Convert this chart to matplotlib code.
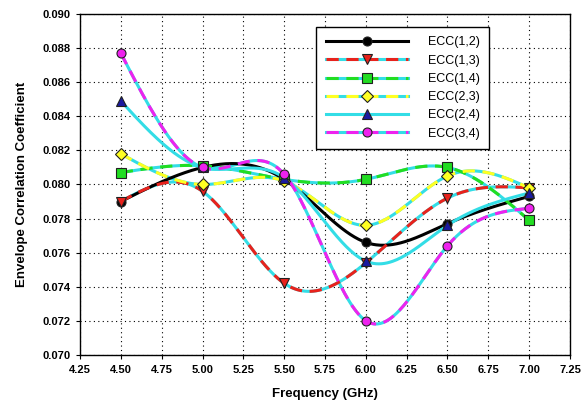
import numpy as np
import matplotlib
matplotlib.use('Agg')
import matplotlib.pyplot as plt
from matplotlib.lines import Line2D
from matplotlib.legend_handler import HandlerTuple

plt.rcParams['font.family'] = ['Liberation Sans', 'DejaVu Sans']

# data
freq = [4.5, 5.0, 5.5, 6.0, 6.5, 7.0]
ecc12 = [0.0790, 0.0810, 0.0803, 0.0766, 0.0777, 0.0793]
ecc13 = [0.0790, 0.0796, 0.0742, 0.0754, 0.0792, 0.0798]
ecc14 = [0.0807, 0.0811, 0.0803, 0.0803, 0.0810, 0.0779]
ecc23 = [0.0818, 0.0800, 0.0802, 0.0776, 0.0805, 0.0798]
ecc24 = [0.0849, 0.0810, 0.0804, 0.0755, 0.0776, 0.0795]
ecc34 = [0.0877, 0.0810, 0.0806, 0.0720, 0.0764, 0.0786]
labels = ['ECC(1,2)', 'ECC(1,3)', 'ECC(1,4)', 'ECC(2,3)', 'ECC(2,4)', 'ECC(3,4)']


def spline(x, y, n=300):
    # natural cubic spline, just for the smooth look of the curves
    x = np.asarray(x, float)
    y = np.asarray(y, float)
    k = len(x)
    h = np.diff(x)
    A = np.zeros((k, k))
    b = np.zeros(k)
    A[0, 0] = 1
    A[-1, -1] = 1
    for i in range(1, k - 1):
        A[i, i - 1] = h[i - 1]
        A[i, i] = 2 * (h[i - 1] + h[i])
        A[i, i + 1] = h[i]
        b[i] = 3 * ((y[i + 1] - y[i]) / h[i] - (y[i] - y[i - 1]) / h[i - 1])
    c = np.linalg.solve(A, b)
    xs = np.linspace(x[0], x[-1], n)
    ys = np.zeros(n)
    for j, xv in enumerate(xs):
        i = min(np.searchsorted(x, xv, side='right') - 1, k - 2)
        dx = xv - x[i]
        bi = (y[i + 1] - y[i]) / h[i] - h[i] * (2 * c[i] + c[i + 1]) / 3
        di = (c[i + 1] - c[i]) / (3 * h[i])
        ys[j] = y[i] + bi * dx + c[i] * dx ** 2 + di * dx ** 3
    return xs, ys


fig = plt.figure(figsize=(5.84, 4.15), dpi=100)
ax = fig.add_axes([0.137, 0.145, 0.839, 0.821])

lw = 2.2
cyan = '#33dde6'
series = [
    (ecc12, 'black', 'o', 'black', False),
    (ecc13, '#e8221c', 'v', '#e8221c', True),
    (ecc14, '#22dd22', 's', '#22dd22', True),
    (ecc23, '#ffff22', 'D', '#ffff22', True),
    (ecc24, cyan, '^', '#1a1aa0', False),
    (ecc34, '#ee22ee', 'o', '#ee22ee', True),
]

handles = []
for (vals, col, mk, mcol, dashed), lab in zip(series, labels):
    xs, ys = spline(freq, vals)
    if dashed:
        ax.plot(xs, ys, color=cyan, lw=lw, zorder=2)
        ax.plot(xs, ys, color=col, lw=lw, dashes=(4, 2.5), zorder=3)
    else:
        ax.plot(xs, ys, color=col, lw=lw, zorder=3)
    ax.plot(freq, vals, ls='none', marker=mk, ms=6.5, mfc=mcol,
            mec='#202020', mew=0.8, zorder=4)
    if dashed:
        h = (Line2D([], [], color=cyan, lw=lw),
             Line2D([], [], color=col, lw=lw, dashes=(4, 2.5), marker=mk,
                    ms=6.5, mfc=mcol, mec='#202020', mew=0.8))
    else:
        h = (Line2D([], [], color=col, lw=lw, marker=mk, ms=6.5, mfc=mcol,
                    mec='#202020', mew=0.8),)
    handles.append(h)

ax.set_xlim(4.25, 7.25)
ax.set_ylim(0.070, 0.090)
ax.set_xticks(np.arange(4.25, 7.26, 0.25))
ax.set_yticks(np.arange(0.070, 0.0901, 0.002))
ax.xaxis.set_major_formatter(matplotlib.ticker.FormatStrFormatter('%.2f'))
ax.yaxis.set_major_formatter(matplotlib.ticker.FormatStrFormatter('%.3f'))
ax.tick_params(length=3, width=0.8, labelsize=8, pad=4)
for t in ax.get_xticklabels() + ax.get_yticklabels():
    t.set_fontweight('bold')
ax.grid(True, color='black', ls=(0, (1, 3)), lw=0.8)
for s in ax.spines.values():
    s.set_linewidth(1.0)

ax.set_xlabel('Frequency (GHz)', fontsize=9.5, fontweight='bold', labelpad=10)
ax.set_ylabel('Envelope Correlation Coefficient', fontsize=9.5, fontweight='bold', labelpad=10)

leg = ax.legend(handles, labels, loc='upper left', bbox_to_anchor=(0.482, 0.962),
                handler_map={tuple: HandlerTuple(ndivide=1, pad=0)},
                handlelength=6.6, handletextpad=1.6, numpoints=1, fontsize=9,
                fancybox=False, edgecolor='black', framealpha=1,
                borderpad=0.75, borderaxespad=0, labelspacing=0.5)
leg.get_frame().set_linewidth(1.0)

fig.savefig('out.png', dpi=100)
